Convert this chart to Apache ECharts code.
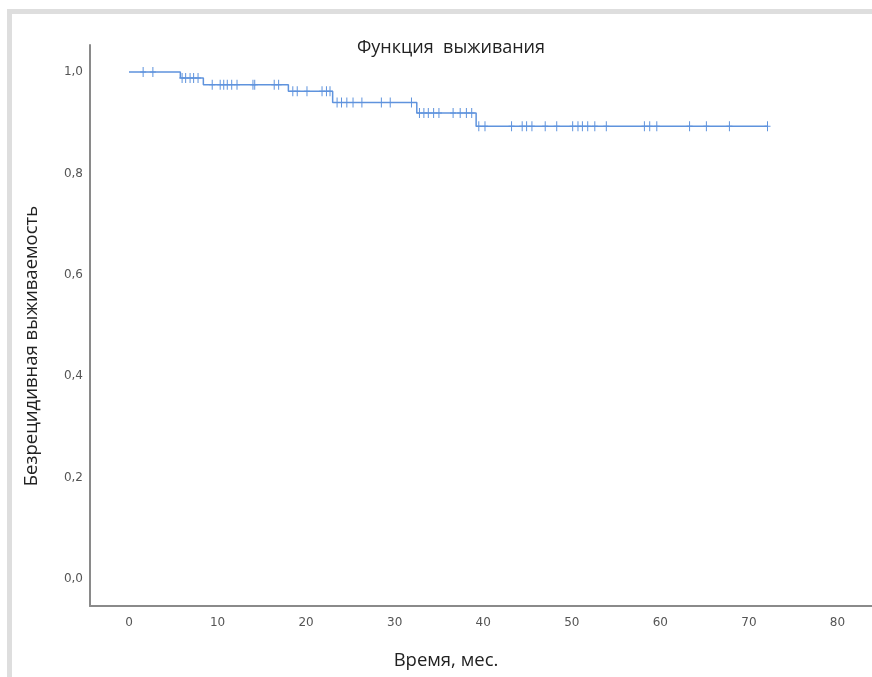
<!DOCTYPE html>
<html>
<head>
<meta charset="utf-8">
<script src="https://cdn.jsdelivr.net/npm/echarts@6/dist/echarts.min.js"></script>
<style>
html,body{margin:0;padding:0;background:#fff;}
#chart{width:872px;height:677px;}
</style>
</head>
<body>
<div id="chart"></div>
<script>
// Kaplan–Meier step data
const stepTimes = [0, 5.8, 8.4, 18.0, 23.0, 32.5, 39.2];
const stepLevels = [1.0, 0.988, 0.975, 0.962, 0.940, 0.919, 0.893];
const lastTime = 72.1;
const censorTimes = [
  1.6, 2.7,
  6.0, 6.4, 6.9, 7.3, 7.8,
  9.4, 10.3, 10.7, 11.1, 11.6, 12.2, 14.0, 14.2, 16.4, 16.9,
  18.5, 19.0, 20.1, 21.8, 22.3, 22.7,
  23.5, 24.0, 24.6, 25.3, 26.3, 28.5, 29.5, 31.9,
  32.8, 33.3, 33.8, 34.4, 35.0, 36.6, 37.4, 38.1, 38.7,
  39.5, 40.2, 43.2, 44.4, 44.9, 45.5, 47.0, 48.3, 50.1, 50.7, 51.2, 51.8, 52.6, 53.9,
  58.2, 58.8, 59.6, 63.3, 65.2, 67.8, 72.1
];
const xTicks = [0, 10, 20, 30, 40, 50, 60, 70, 80];
const yTicks = [0, 0.2, 0.4, 0.6, 0.8, 1.0];

const titleText = 'Функция  выживания';
const xName = 'Время, мес.';
const yName = 'Безрецидивная выживаемость';

function levelAt(t) {
  let v = stepLevels[0];
  for (let i = 0; i < stepTimes.length; i++) {
    if (t >= stepTimes[i]) v = stepLevels[i];
  }
  return v;
}

const lineData = stepTimes.map((t, i) => [t, stepLevels[i]]);
lineData.push([lastTime, stepLevels[stepLevels.length - 1]]);
const censorData = censorTimes.map(t => [t, levelAt(t)]);

const blue = '#5f93dd';
const textFont = 'Open Sans';
const chart = echarts.init(document.getElementById('chart'));
chart.setOption({
  animation: false,
  backgroundColor: '#fff',
  title: {
    text: titleText,
    left: 446, top: 34, textAlign: 'center',
    textStyle: {fontFamily: textFont, fontSize: 18, fontWeight: 'normal', color: '#222'}
  },
  graphic: [
    {type: 'rect', shape: {x: 7, y: 9, width: 865, height: 5}, style: {fill: '#dedede'}, silent: true},
    {type: 'rect', shape: {x: 7, y: 9, width: 5, height: 668}, style: {fill: '#dedede'}, silent: true},
    {type: 'text', x: 32, y: 346, rotation: Math.PI / 2,
      style: {text: yName, fontFamily: textFont, fontSize: 18.5, fill: '#222', align: 'center', verticalAlign: 'middle'}},
    {type: 'text', x: 446, y: 661,
      style: {text: xName, fontFamily: textFont, fontSize: 18.5, fill: '#222', align: 'center', verticalAlign: 'middle'}}
  ],
  grid: {left: 90, right: 0, top: 45, bottom: 71, containLabel: false},
  xAxis: {
    type: 'value', min: -4.4, max: 83.9,
    axisLine: {show: true, onZero: false, lineStyle: {color: '#8a8a8a', width: 2}},
    axisTick: {show: false},
    splitLine: {show: false},
    axisLabel: {
      customValues: xTicks, margin: 11,
      fontFamily: 'DejaVu Sans', fontSize: 12, color: '#555'
    }
  },
  yAxis: {
    type: 'value', min: -0.0533, max: 1.0533,
    axisLine: {show: true, onZero: false, lineStyle: {color: '#8a8a8a', width: 2}},
    axisTick: {show: false},
    splitLine: {show: false},
    axisLabel: {
      customValues: yTicks, margin: 7,
      fontFamily: 'DejaVu Sans', fontSize: 12, color: '#555',
      formatter: v => v.toFixed(1).replace('.', ',')
    }
  },
  series: [
    {
      type: 'line', step: 'end', data: lineData, showSymbol: false,
      lineStyle: {color: blue, width: 1.5}, z: 2
    },
    {
      type: 'scatter', data: censorData,
      symbol: 'path://M2.5,0h1v10h-1z M0,4.5h6v1h-6z',
      symbolSize: [6, 10], symbolKeepAspect: false,
      itemStyle: {color: blue, opacity: 1}, z: 3
    }
  ]
});
</script>
</body>
</html>
